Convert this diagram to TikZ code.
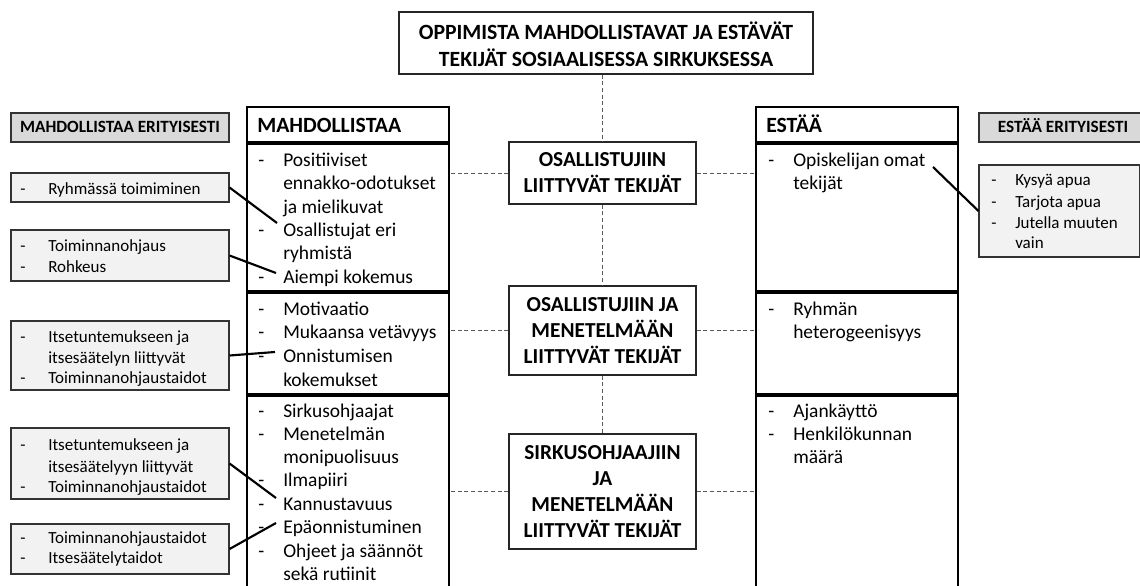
\documentclass[tikz,border=0pt]{standalone}
\usepackage{fontspec}
\setmainfont{Carlito}
\usetikzlibrary{fit}
\begin{document}
\begin{tikzpicture}[x=0.75pt,y=-0.75pt,
 colbox/.style={draw=black, line width=1pt, inner sep=0pt},
 sepline/.style={line width=2.4pt},
 cbox/.style={draw=black!85, line width=0.8pt, inner sep=0pt},
 ctxt/.style={inner sep=0pt, align=center, font=\fontsize{16pt}{19.6pt}\selectfont\bfseries},
 ttxt/.style={inner sep=0pt, align=center, font=\fontsize{16.3pt}{20pt}\selectfont\bfseries},
 gbox/.style={draw=black!80, line width=0.8pt, fill=black!5, inner sep=0pt},
 hbox/.style={gbox, fill=black!15},
 dashcon/.style={dash pattern=on 3pt off 2pt, draw=black!65, line width=0.6pt},
 conn/.style={line width=1.6pt},
 txt/.style={anchor=base west, inner sep=0pt, font=\fontsize{14.6pt}{17.6pt}\selectfont},
 stxt/.style={anchor=base west, inner sep=0pt, font=\fontsize{12.75pt}{15pt}\selectfont},
 htxt/.style={anchor=base west, inner sep=0pt, font=\fontsize{16.3pt}{18pt}\selectfont\bfseries},
 shtxt/.style={anchor=base, inner sep=0pt, font=\fontsize{12.9pt}{15pt}\selectfont\bfseries},
]
\clip (0,0) rectangle (1140,586);
\fill[white] (0,0) rectangle (1140,586);

% title
\node[cbox, fit={(399,12) (813,74)}] (title) {};
\node[ttxt] (titlet) at ([yshift=-0.75pt]title.center) {OPPIMISTA MAHDOLLISTAVAT JA ESTÄVÄT\\TEKIJÄT SOSIAALISESSA SIRKUKSESSA};

% columns
\node[colbox, fit={(247,107) (449,600)}] (colL) {};
\node[colbox, fit={(756,107) (958,600)}] (colR) {};
\draw[sepline] (247,143) -- (449,143) (247,292) -- (449,292) (247,395) -- (449,395);
\draw[sepline] (756,143) -- (958,143) (756,292) -- (958,292) (756,395) -- (958,395);
\node[htxt] (hL) at (257,132) {MAHDOLLISTAA};
\node[htxt] (hR) at (766,132) {ESTÄÄ};

% center boxes
\node[cbox, fit={(509,142) (696,204)}] (b1) {};
\node[cbox, fit={(509,286) (696,375)}] (b2) {};
\node[cbox, fit={(509,434) (696,549)}] (b3) {};
\node[ctxt] (b1t) at (b1.center) {OSALLISTUJIIN\\LIITTYVÄT TEKIJÄT};
\node[ctxt] (b2t) at (b2.center) {OSALLISTUJIIN JA\\MENETELMÄÄN\\LIITTYVÄT TEKIJÄT};
\node[ctxt] (b3t) at (b3.center) {SIRKUSOHJAAJIIN\\JA\\MENETELMÄÄN\\LIITTYVÄT TEKIJÄT};

% dashed connectors
\draw[dashcon] (title.south -| b1.north) -- (b1.north);
\draw[dashcon] (b1.south) -- (b2.north);
\draw[dashcon] (b2.south) -- (b3.north);
\foreach \b in {b1,b2,b3}{
  \draw[dashcon] (\b.west) -- (\b.west -| colL.east);
  \draw[dashcon] (\b.east) -- (\b.east -| colR.west);
}

% column texts
\foreach \y/\d/\t [count=\i] in {166/1/Positiiviset, 189/0/ennakko-odotukset, 213/0/ja mielikuvat, 236/1/Osallistujat eri, 259/0/ryhmistä, 283/1/Aiempi kokemus, 315/1/Motivaatio, 338/1/Mukaansa vetävyys, 362/1/Onnistumisen, 386/0/kokemukset, 417/1/Sirkusohjaajat, 440/1/Menetelmän, 463/0/monipuolisuus, 486/1/Ilmapiiri, 510/1/Kannustavuus, 533/1/Epäonnistuminen, 557/1/Ohjeet ja säännöt, 580/0/sekä rutiinit}{
  \ifnum\d=1 \node[txt] (ld\i) at (258,\y) {-};\fi
  \node[txt] (lt\i) at (283,\y) {\t};
}
\foreach \y/\d/\t [count=\i] in {166/1/Opiskelijan omat, 189/0/tekijät, 315/1/Ryhmän, 338/0/heterogeenisyys, 417/1/Ajankäyttö, 440/1/Henkilökunnan, 463/0/määrä}{
  \ifnum\d=1 \node[txt] (rd\i) at (768,\y) {-};\fi
  \node[txt] (rt\i) at (793,\y) {\t};
}

% left gray boxes
\node[hbox, fit={(11,113) (229,142)}] (hgL) {};
\node[shtxt] (hgLt) at (hgL.center |- 0,132) {MAHDOLLISTAA ERITYISESTI};
\node[gbox, fit={(11,173) (229,202)}] (g1) {};
\node[gbox, fit={(11,230) (229,281)}] (g2) {};
\node[gbox, fit={(11,321) (229,390)}] (g3) {};
\node[gbox, fit={(11,428) (229,499)}] (g4) {};
\node[gbox, fit={(11,524) (229,574)}] (g5) {};
\foreach \y/\d/\t [count=\i] in {194/1/Ryhmässä toimiminen, 251/1/Toiminnanohjaus, 272/1/Rohkeus, 342/1/Itsetuntemukseen ja, 363/0/itsesäätelyn liittyvät, 383/1/Toiminnanohjaustaidot, 450/1/Itsetuntemukseen ja, 472/0/itsesäätelyyn liittyvät, 492/1/Toiminnanohjaustaidot, 543/1/Toiminnanohjaustaidot, 563/1/Itsesäätelytaidot}{
  \ifnum\d=1 \node[stxt] (gd\i) at (20,\y) {-};\fi
  \node[stxt] (gt\i) at (48,\y) {\t};
}

% right gray boxes
\node[hbox, fit={(979,113) (1147,142)}] (hgR) {};
\node[shtxt] (hgRt) at (hgR.center |- 0,132) {ESTÄÄ ERITYISESTI};
\node[gbox, fit={(979,165) (1139.5,257)}] (g6) {};
\foreach \y/\d/\t [count=\i] in {185/1/Kysyä apua, 207/1/Tarjota apua, 228/1/Jutella muuten, 248/0/vain}{
  \ifnum\d=1 \node[stxt] (hd\i) at (991,\y) {-};\fi
  \node[stxt] (ht\i) at (1015,\y) {\t};
}

% solid connectors
\coordinate (e1) at (277,223);
\coordinate (e2) at (276,273);
\coordinate (e3) at (275,352);
\coordinate (e4) at (276,498);
\coordinate (e5) at (276,523);
\coordinate (e6) at (933,167);
\draw[conn] (g1.east) -- (e1);
\draw[conn] (g2.east) -- (e2);
\draw[conn] (g3.east) -- (e3);
\draw[conn] (g4.east) -- (e4);
\draw[conn] (g5.east) -- (e5);
\draw[conn] (e6) -- (g6.west);
\end{tikzpicture}
\end{document}
